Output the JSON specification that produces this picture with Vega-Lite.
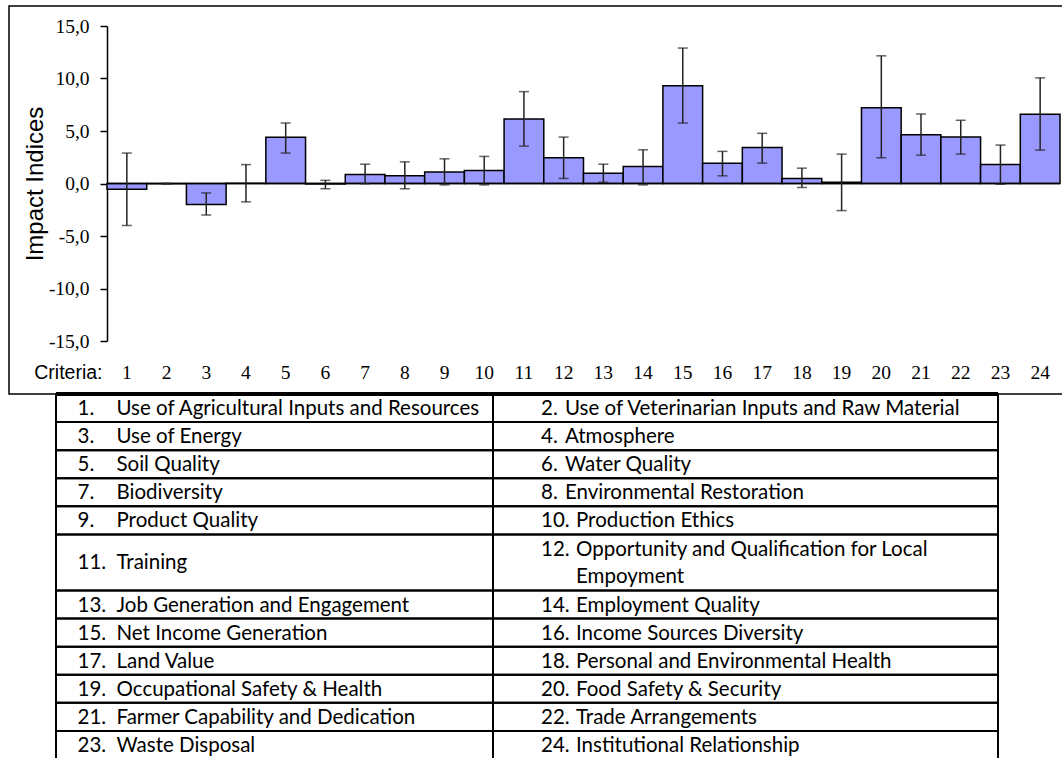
{
  "$schema": "https://vega.github.io/schema/vega-lite/v6.json",
  "padding": {"left": 8, "top": 5, "right": 0, "bottom": 0},
  "background": "white",
  "spacing": 0,
  "bounds": "flush",
  "config": {
    "view": {"stroke": null},
    "axis": {"labelColor": "black", "titleColor": "black", "domainColor": "black", "tickColor": "black", "titleFontWeight": "normal", "grid": false}
  },
  "datasets": {
    "bars": [
      {"c": 1, "v": -0.55, "lo": -4.0, "hi": 2.9},
      {"c": 2, "v": -0.02, "lo": -0.05, "hi": 0.02},
      {"c": 3, "v": -2.0, "lo": -3.0, "hi": -0.9},
      {"c": 4, "v": 0.03, "lo": -1.75, "hi": 1.8},
      {"c": 5, "v": 4.4, "lo": 2.9, "hi": 5.76},
      {"c": 6, "v": -0.05, "lo": -0.5, "hi": 0.3},
      {"c": 7, "v": 0.86, "lo": -0.02, "hi": 1.84},
      {"c": 8, "v": 0.73, "lo": -0.5, "hi": 2.06},
      {"c": 9, "v": 1.1, "lo": -0.13, "hi": 2.35},
      {"c": 10, "v": 1.24, "lo": -0.13, "hi": 2.58},
      {"c": 11, "v": 6.14, "lo": 3.56, "hi": 8.75},
      {"c": 12, "v": 2.45, "lo": 0.48, "hi": 4.42},
      {"c": 13, "v": 0.98, "lo": 0.12, "hi": 1.84},
      {"c": 14, "v": 1.62, "lo": -0.13, "hi": 3.21},
      {"c": 15, "v": 9.32, "lo": 5.76, "hi": 12.9},
      {"c": 16, "v": 1.94, "lo": 0.73, "hi": 3.06},
      {"c": 17, "v": 3.44, "lo": 1.94, "hi": 4.78},
      {"c": 18, "v": 0.48, "lo": -0.38, "hi": 1.46},
      {"c": 19, "v": 0.12, "lo": -2.58, "hi": 2.8},
      {"c": 20, "v": 7.22, "lo": 2.45, "hi": 12.16},
      {"c": 21, "v": 4.64, "lo": 2.7, "hi": 6.62},
      {"c": 22, "v": 4.42, "lo": 2.8, "hi": 6.02},
      {"c": 23, "v": 1.81, "lo": -0.07, "hi": 3.66},
      {"c": 24, "v": 6.59, "lo": 3.18, "hi": 10.06}
    ],
    "legend": [
      {"n": 1, "num": "1.", "name": "Use of Agricultural Inputs and Resources", "col": 0, "c0": 0, "c1": 1, "r0": 0, "r1": 1, "rm": 0.5},
      {"n": 2, "num": "2.", "name": "Use of Veterinarian Inputs and Raw Material", "col": 1, "c0": 1, "c1": 2, "r0": 0, "r1": 1, "rm": 0.5},
      {"n": 3, "num": "3.", "name": "Use of Energy", "col": 0, "c0": 0, "c1": 1, "r0": 1, "r1": 2, "rm": 1.5},
      {"n": 4, "num": "4.", "name": "Atmosphere", "col": 1, "c0": 1, "c1": 2, "r0": 1, "r1": 2, "rm": 1.5},
      {"n": 5, "num": "5.", "name": "Soil Quality", "col": 0, "c0": 0, "c1": 1, "r0": 2, "r1": 3, "rm": 2.5},
      {"n": 6, "num": "6.", "name": "Water Quality", "col": 1, "c0": 1, "c1": 2, "r0": 2, "r1": 3, "rm": 2.5},
      {"n": 7, "num": "7.", "name": "Biodiversity", "col": 0, "c0": 0, "c1": 1, "r0": 3, "r1": 4, "rm": 3.5},
      {"n": 8, "num": "8.", "name": "Environmental Restoration", "col": 1, "c0": 1, "c1": 2, "r0": 3, "r1": 4, "rm": 3.5},
      {"n": 9, "num": "9.", "name": "Product Quality", "col": 0, "c0": 0, "c1": 1, "r0": 4, "r1": 5, "rm": 4.5},
      {"n": 10, "num": "10.", "name": "Production Ethics", "col": 1, "c0": 1, "c1": 2, "r0": 4, "r1": 5, "rm": 4.5},
      {"n": 11, "num": "11.", "name": "Training", "col": 0, "c0": 0, "c1": 1, "r0": 5, "r1": 7, "rm": 6},
      {"n": 12, "num": "12.", "name": "Opportunity and Qualification for Local\nEmpoyment", "col": 1, "c0": 1, "c1": 2, "r0": 5, "r1": 7, "rm": 6},
      {"n": 13, "num": "13.", "name": "Job Generation and Engagement", "col": 0, "c0": 0, "c1": 1, "r0": 7, "r1": 8, "rm": 7.5},
      {"n": 14, "num": "14.", "name": "Employment Quality", "col": 1, "c0": 1, "c1": 2, "r0": 7, "r1": 8, "rm": 7.5},
      {"n": 15, "num": "15.", "name": "Net Income Generation", "col": 0, "c0": 0, "c1": 1, "r0": 8, "r1": 9, "rm": 8.5},
      {"n": 16, "num": "16.", "name": "Income Sources Diversity", "col": 1, "c0": 1, "c1": 2, "r0": 8, "r1": 9, "rm": 8.5},
      {"n": 17, "num": "17.", "name": "Land Value", "col": 0, "c0": 0, "c1": 1, "r0": 9, "r1": 10, "rm": 9.5},
      {"n": 18, "num": "18.", "name": "Personal and Environmental Health", "col": 1, "c0": 1, "c1": 2, "r0": 9, "r1": 10, "rm": 9.5},
      {"n": 19, "num": "19.", "name": "Occupational Safety & Health", "col": 0, "c0": 0, "c1": 1, "r0": 10, "r1": 11, "rm": 10.5},
      {"n": 20, "num": "20.", "name": "Food Safety & Security", "col": 1, "c0": 1, "c1": 2, "r0": 10, "r1": 11, "rm": 10.5},
      {"n": 21, "num": "21.", "name": "Farmer Capability and Dedication", "col": 0, "c0": 0, "c1": 1, "r0": 11, "r1": 12, "rm": 11.5},
      {"n": 22, "num": "22.", "name": "Trade Arrangements", "col": 1, "c0": 1, "c1": 2, "r0": 11, "r1": 12, "rm": 11.5},
      {"n": 23, "num": "23.", "name": "Waste Disposal", "col": 0, "c0": 0, "c1": 1, "r0": 12, "r1": 13, "rm": 12.5},
      {"n": 24, "num": "24.", "name": "Institutional Relationship", "col": 1, "c0": 1, "c1": 2, "r0": 12, "r1": 13, "rm": 12.5}
    ]
  },
  "vconcat": [
    {
      "width": 1054,
      "height": 388,
      "view": {"stroke": "black", "strokeWidth": 1.5},
      "data": {"name": "bars"},
      "encoding": {
        "x": {
          "field": "c", "type": "ordinal",
          "scale": {"type": "band", "range": [98, 1051], "paddingInner": 0, "paddingOuter": 0},
          "axis": {
            "orient": "bottom", "offset": -53, "domain": false, "ticks": false, "tickSize": 0,
            "labelAngle": 0, "labelFont": "Liberation Serif", "labelFontSize": 19.5, "labelBaseline": "middle", "labelPadding": 31.5,
            "title": "Criteria:", "titleFont": "Liberation Sans", "titleFontSize": 19.5, "titleAlign": "right", "titleBaseline": "middle",
            "titleAngle": 0, "titleX": 93, "titleY": 31.5
          }
        }
      },
      "layer": [
        {
          "mark": {"type": "bar", "fill": "#9999FF", "stroke": "black", "strokeWidth": 1.5},
          "encoding": {
            "y": {
              "field": "v", "type": "quantitative",
              "scale": {"domain": [-15, 15], "range": [335, 20], "nice": false, "zero": false},
              "axis": {
                "orient": "left", "offset": -98, "values": [-15, -10, -5, 0, 5, 10, 15],
                "labelExpr": "(datum.value < 0 ? '-' : '') + replace(format(abs(datum.value), '.1f'), '.', ',')",
                "labelFont": "Liberation Serif", "labelFontSize": 19.5, "labelPadding": 11,
                "tickSize": 7, "tickWidth": 1.5, "domainWidth": 1.5,
                "title": "Impact Indices", "titleFont": "Liberation Sans", "titleFontSize": 24,
                "titleX": -72, "titleBaseline": "middle"
              }
            }
          }
        },
        {
          "mark": {"type": "rect", "fill": null, "stroke": "black", "strokeWidth": 1.5},
          "encoding": {"y": {"datum": 0}, "y2": {"datum": 0}}
        },
        {
          "mark": {"type": "rule", "color": "#222", "strokeWidth": 1.5},
          "encoding": {"y": {"field": "lo", "type": "quantitative"}, "y2": {"field": "hi"}}
        },
        {
          "mark": {"type": "tick", "color": "#222", "size": 10, "thickness": 1.5},
          "encoding": {"y": {"field": "lo", "type": "quantitative"}}
        },
        {
          "mark": {"type": "tick", "color": "#222", "size": 10, "thickness": 1.5},
          "encoding": {"y": {"field": "hi", "type": "quantitative"}}
        }
      ]
    },
    {
      "width": 1054,
      "height": 365,
      "view": {"stroke": null},
      "data": {"name": "legend"},
      "encoding": {
        "x": {"field": "c0", "type": "quantitative", "scale": {"domain": [0, 1, 2], "range": [47, 484, 989], "nice": false, "zero": false}, "axis": null},
        "y": {"field": "r0", "type": "quantitative", "scale": {"domain": [0, 13], "range": [0, 365], "nice": false, "zero": false}, "axis": null}
      },
      "layer": [
        {
          "mark": {"type": "rect", "fill": null, "stroke": "black", "strokeWidth": 2},
          "encoding": {"x2": {"field": "c1"}, "y2": {"field": "r1"}}
        },
        {
          "mark": {"type": "rule", "color": "black", "strokeWidth": 3.5},
          "encoding": {"x": {"datum": 0}, "x2": {"datum": 2}, "y": {"datum": 0}}
        },
        {
          "transform": [{"filter": "datum.col == 0"}],
          "mark": {"type": "text", "align": "left", "baseline": "middle", "dx": 21.5, "dy": 1, "font": "Lato", "fontSize": 20.5, "color": "black"},
          "encoding": {"y": {"field": "rm", "type": "quantitative"}, "text": {"field": "num"}}
        },
        {
          "transform": [{"filter": "datum.col == 0"}],
          "mark": {"type": "text", "align": "left", "baseline": "middle", "dx": 60.5, "dy": 1, "font": "Lato", "fontSize": 20.5, "color": "black"},
          "encoding": {"y": {"field": "rm", "type": "quantitative"}, "text": {"field": "name"}}
        },
        {
          "transform": [{"filter": "datum.col == 1 && datum.n != 12"}],
          "mark": {"type": "text", "align": "left", "baseline": "middle", "dx": 48, "dy": 1, "font": "Lato", "fontSize": 20.5, "color": "black"},
          "encoding": {"y": {"field": "rm", "type": "quantitative"}, "text": {"field": "num"}}
        },
        {
          "transform": [{"filter": "datum.col == 1 && datum.n < 10"}],
          "mark": {"type": "text", "align": "left", "baseline": "middle", "dx": 72, "dy": 1, "font": "Lato", "fontSize": 20.5, "color": "black"},
          "encoding": {"y": {"field": "rm", "type": "quantitative"}, "text": {"field": "name"}}
        },
        {
          "transform": [{"filter": "datum.col == 1 && datum.n >= 10 && datum.n != 12"}],
          "mark": {"type": "text", "align": "left", "baseline": "middle", "dx": 83, "dy": 1, "font": "Lato", "fontSize": 20.5, "color": "black"},
          "encoding": {"y": {"field": "rm", "type": "quantitative"}, "text": {"field": "name"}}
        },
        {
          "transform": [{"filter": "datum.n == 12"}],
          "mark": {"type": "text", "align": "left", "baseline": "middle", "dx": 48, "dy": -12.5, "font": "Lato", "fontSize": 20.5, "color": "black"},
          "encoding": {"y": {"field": "rm", "type": "quantitative"}, "text": {"field": "num"}}
        },
        {
          "transform": [{"filter": "datum.n == 12"}],
          "mark": {"type": "text", "align": "left", "baseline": "middle", "dx": 83, "dy": -12.5, "font": "Lato", "fontSize": 20.5, "color": "black", "lineBreak": "\n", "lineHeight": 27},
          "encoding": {"y": {"field": "rm", "type": "quantitative"}, "text": {"field": "name"}}
        }
      ]
    }
  ]
}
